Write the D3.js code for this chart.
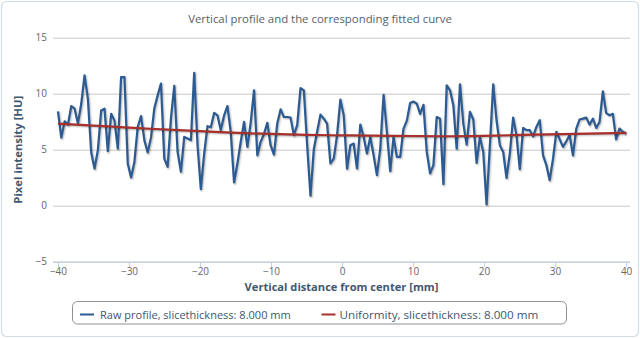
<!DOCTYPE html>
<html>
<head>
<meta charset="utf-8">
<script src="https://cdn.jsdelivr.net/npm/d3@7"></script>
<style>
  html, body { margin: 0; padding: 0; background: #fff; }
  svg { display: block; }
  text { font-family: "Open Sans", "DejaVu Sans", sans-serif; }
</style>
</head>
<body>
<svg id="chart" width="640" height="338"></svg>
<script>
// ---------------- data ----------------
const chartTitle = "Vertical profile and the corresponding fitted curve";
const xAxisTitle = "Vertical distance from center [mm]";
const yAxisTitle = "Pixel intensity [HU]";
const seriesNames = ["Raw profile, slicethickness: 8.000 mm", "Uniformity, slicethickness: 8.000 mm"];

const xTicks = [-40, -30, -20, -10, 0, 10, 20, 30, 40];
const yTicks = [-5, 0, 5, 10, 15];

// raw profile samples, evenly spaced from profileStart to profileEnd (mm)
const profileStart = -40;
const profileEnd = 40;
const rawProfile = [
  8.43, 6.08, 7.54, 7.24, 8.9, 8.66, 7.33, 9.1, 11.63, 9.55, 4.75, 3.32, 4.96, 8.5, 8.66, 4.87, 8.2, 7.6, 5.1, 11.48,
  11.48, 3.77, 2.52, 3.9, 7.03, 8.0, 5.85, 4.75,
  6.1, 8.7, 9.85, 10.9, 4.2, 3.47, 7.8, 10.7, 4.8, 3.03, 6.14, 6.0, 5.85, 11.87, 5.4, 1.48, 4.66, 7.1, 7.0, 8.28,
  8.07, 6.74, 8.07, 8.9, 6.6, 2.08, 3.77, 5.7, 7.48, 5.25, 7.4,
  10.3, 4.5, 5.7, 6.4, 7.4, 5.4, 4.57, 7.33, 8.6, 7.92, 7.92, 7.86, 6.3, 7.2, 10.5, 10.3, 5.4, 0.89, 5.04, 6.6,
  8.13, 7.77, 7.33, 3.77, 4.2, 6.3, 9.47, 8.07, 3.3,
  5.4, 5.55, 3.32, 7.24, 6.14, 4.66, 6.14, 4.5, 2.73, 5.1, 9.9, 6.6, 3.09, 6.14, 4.36, 4.36, 6.88, 7.6, 9.17, 9.3,
  9.1, 8.2, 9.0, 4.8, 2.88, 3.62, 7.92, 7.77, 1.93,
  10.74, 10.3, 8.96, 5.1, 10.83, 7.33, 5.46, 8.37, 7.7, 3.83, 6.14, 4.8, 0.12, 5.4, 10.83, 7.63, 5.4, 4.8, 2.49,
  4.66, 7.86, 6.3, 3.26, 6.94, 6.74, 6.74, 6.2, 7.03, 7.63,
  4.5, 3.62, 2.28, 4.2, 6.6, 5.93, 5.25, 5.75, 6.3, 4.5, 6.88, 7.7, 7.77, 7.86, 7.24, 7.77, 6.94, 7.48, 10.2, 8.28,
  8.07, 8.2, 5.93, 6.88, 6.6, 6.44
];

// fitted uniformity curve (read at sample positions)
const fitX = [-40, -35, -30, -27, -20, -13, -5, 0, 7, 14, 20, 27, 33, 40];
const fitY = [7.33, 7.15, 6.97, 6.87, 6.66, 6.46, 6.32, 6.28, 6.23, 6.2, 6.24, 6.34, 6.42, 6.5];

// ---------------- drawing ----------------
const W = 640, H = 338;
const plot = { left: 53, right: 630, top: 37.7, bottom: 261.7 };
const colors = { raw: "#2b5b92", fit: "#a8302c" };

const svg = d3.select("#chart");

// outer frame
svg.append("rect")
  .attr("x", 1.5).attr("y", 1.5).attr("width", W - 3).attr("height", H - 3)
  .attr("rx", 5).attr("fill", "#fff").attr("stroke", "#d3dde6").attr("stroke-width", 1.2);

const x = d3.scaleLinear().domain([-40.7, 40.55]).range([plot.left, plot.right]);
const y = d3.scaleLinear().domain([-5, 15]).range([plot.bottom, plot.top]);
const idx = d3.scaleLinear().domain([0, rawProfile.length - 1]).range([profileStart, profileEnd]);

function fitText(sel, target) {
  const n = sel.node();
  const fs = parseFloat(sel.attr("font-size"));
  const len = n.getComputedTextLength();
  if (len > 0) sel.attr("font-size", (fs * target / len).toFixed(2));
}

// title
const t = svg.append("text").attr("x", 320).attr("y", 23).attr("text-anchor", "middle")
  .attr("font-size", 11).attr("fill", "#555f6b").text(chartTitle);
fitText(t, 264);

// grid lines
const yAxis = d3.axisLeft(y).tickValues(yTicks).tickSize(-(plot.right - plot.left)).tickPadding(6)
  .tickFormat(d3.format("d"));
const gy = svg.append("g").attr("transform", `translate(${plot.left},0)`).call(yAxis);
gy.select(".domain").remove();
gy.selectAll(".tick line").attr("stroke", "#c8c8c8").attr("stroke-width", 1);
gy.selectAll(".tick text").attr("fill", "#666").attr("font-size", 10)
  .attr("font-family", "'Open Sans', 'DejaVu Sans', sans-serif").attr("x", -6);

// x axis
const xAxis = d3.axisBottom(x).tickValues(xTicks).tickSize(5).tickPadding(1);
const gx = svg.append("g").attr("transform", `translate(0,${plot.bottom + 0.5})`).call(xAxis);
gx.select(".domain").attr("stroke", "#c0d0e0").attr("stroke-width", 1.2)
  .attr("d", `M${plot.left},0H${plot.right}`);
gx.selectAll(".tick line").attr("stroke", "#c0d0e0");
gx.selectAll(".tick text").attr("fill", "#666").attr("font-size", 10)
  .attr("font-family", "'Open Sans', 'DejaVu Sans', sans-serif");

// axis titles
const xt = svg.append("text").attr("x", (plot.left + plot.right) / 2).attr("y", 290.5)
  .attr("text-anchor", "middle").attr("font-size", 10).attr("font-weight", "bold")
  .attr("fill", "#3f5872").text(xAxisTitle);
fitText(xt, 194);
const yt = svg.append("text").attr("transform", `translate(22,${(plot.top + plot.bottom) / 2}) rotate(-90)`)
  .attr("text-anchor", "middle").attr("font-size", 10).attr("font-weight", "bold")
  .attr("fill", "#3f5872").text(yAxisTitle);
fitText(yt, 108);

// series
const rawLine = d3.line().x((d, i) => x(idx(i))).y(d => y(d));
const fitLine = d3.line().x((d, i) => x(fitX[i])).y(d => y(d)).curve(d3.curveMonotoneX);

function drawShadowed(pathD, color, width) {
  const sh = [[5, 0.05], [3, 0.1], [1, 0.15]];
  sh.forEach(([w, o]) => {
    svg.append("path").attr("d", pathD).attr("fill", "none")
      .attr("stroke", "#000").attr("stroke-opacity", o).attr("stroke-width", w)
      .attr("stroke-linejoin", "round").attr("transform", "translate(1,1)");
  });
  svg.append("path").attr("d", pathD).attr("fill", "none")
    .attr("stroke", color).attr("stroke-width", width).attr("stroke-linejoin", "round");
}
drawShadowed(rawLine(rawProfile), colors.raw, 2.2);
drawShadowed(fitLine(fitY), colors.fit, 2.2);

// legend
const lg = svg.append("g");
lg.append("rect").attr("x", 72.5).attr("y", 301.5).attr("width", 494).attr("height", 22.5)
  .attr("rx", 5).attr("fill", "#fff").attr("stroke", "#909090").attr("stroke-width", 1);
const legendItems = [
  { name: seriesNames[0], color: colors.raw, sx: 80, tx: 100, w: 191 },
  { name: seriesNames[1], color: colors.fit, sx: 321.5, tx: 339.5, w: 199 }
];
legendItems.forEach(it => {
  lg.append("line").attr("x1", it.sx).attr("x2", it.sx + 14).attr("y1", 314.5).attr("y2", 314.5)
    .attr("stroke", it.color).attr("stroke-width", 2);
  const tt = lg.append("text").attr("x", it.tx).attr("y", 318.5).attr("font-size", 10.5)
    .attr("fill", "#3e576f").text(it.name);
  fitText(tt, it.w);
});
</script>
</body>
</html>
